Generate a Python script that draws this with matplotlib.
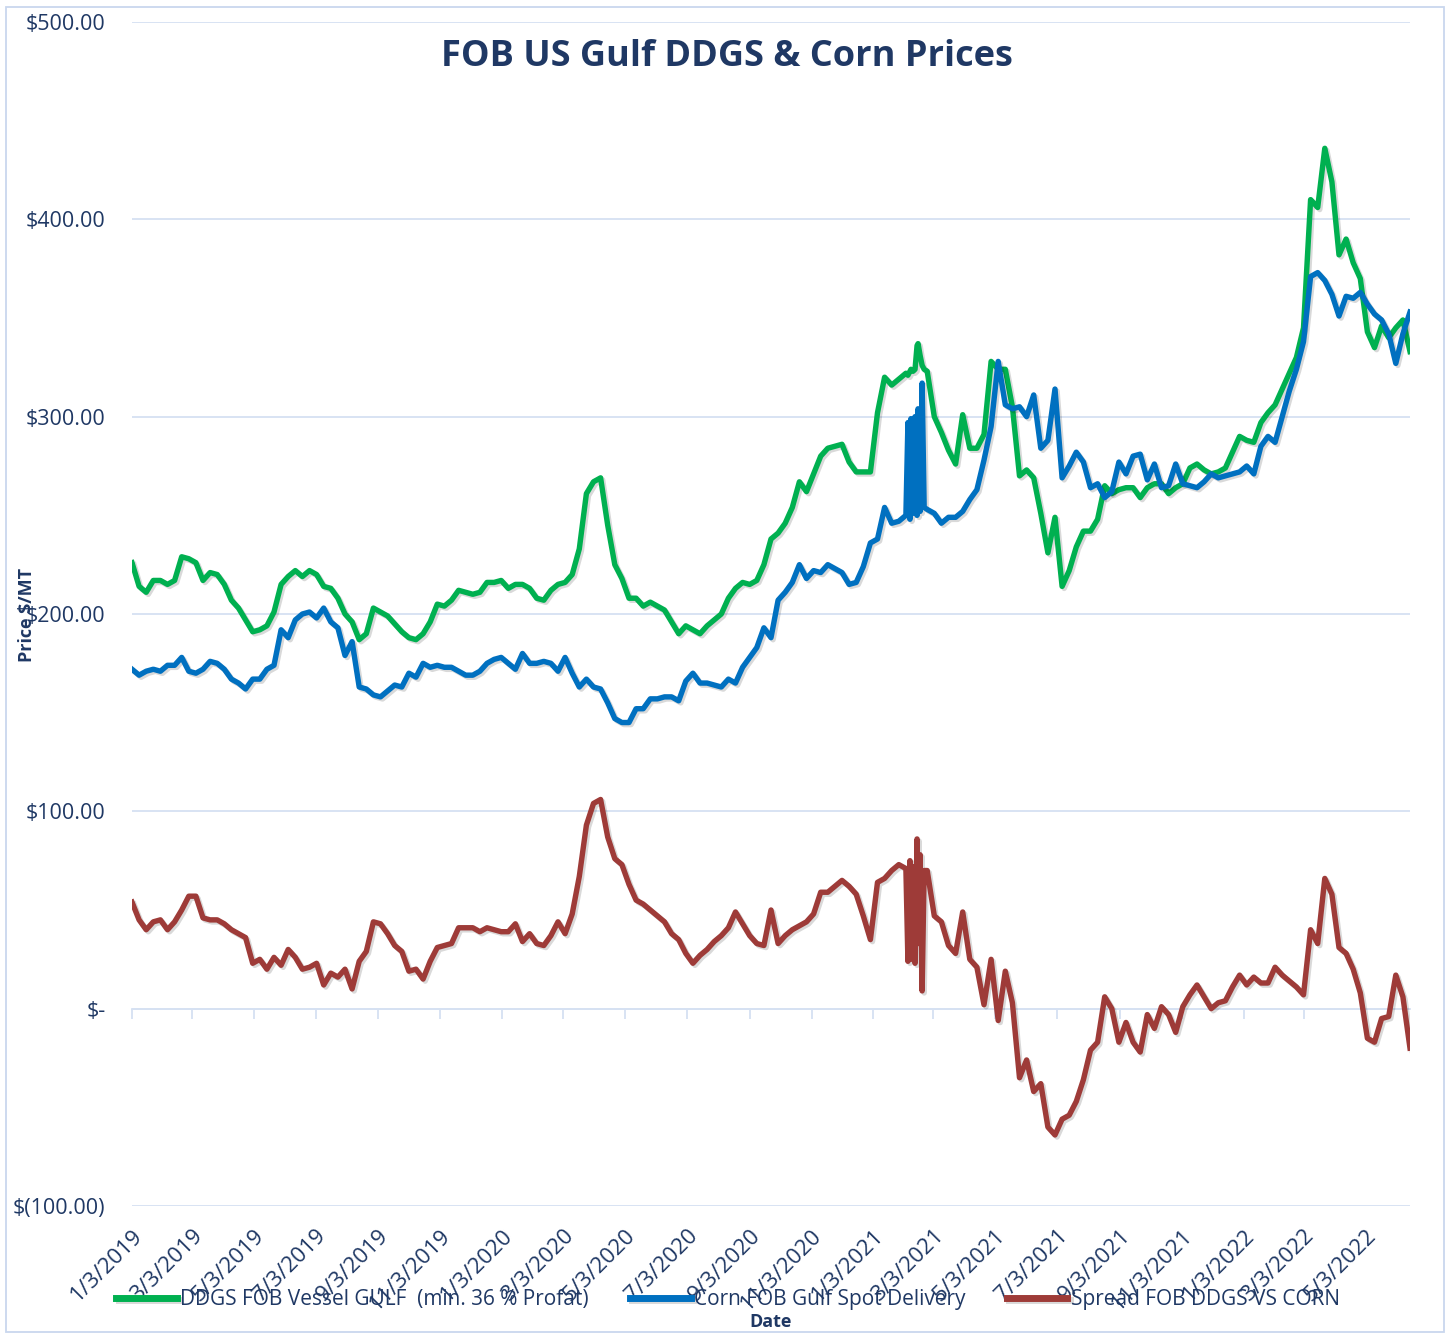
import matplotlib
matplotlib.use('Agg')
import matplotlib.pyplot as plt
import matplotlib.patheffects as pe
from matplotlib.patches import Rectangle
from matplotlib.ticker import FuncFormatter
import pandas as pd

plt.rcParams['font.family'] = ['Open Sans', 'DejaVu Sans']

# weekly prices, $/MT, starting 1/3/2019
start = '2019-01-03'
ddgs = [226, 214, 211, 217, 217, 215, 217, 229, 228, 226,
        217, 221, 220, 215, 207, 203, 197, 191, 192, 194,
        201, 215, 219, 222, 219, 222, 220, 214, 213, 208,
        200, 196, 187, 190, 203, 201, 199, 195, 191, 188,
        187, 190, 196, 205, 204, 207, 212, 211, 210, 211,
        216, 216, 217, 213, 215, 215, 213, 208, 207, 212,
        215, 216, 220, 233, 261, 267, 269, 245, 225, 218,
        208, 208, 204, 206, 204, 202, 196, 190, 194, 192,
        190, 194, 197, 200, 208, 213, 216, 215, 217, 225,
        238, 241, 246, 254, 267, 262, 271, 280, 284, 285,
        286, 277, 272, 272, 272, 302, 320, 316, 319, 322,
        323, 331, 323, 300, 292, 283, 276, 301, 284, 284,
        291, 328, 324, 324, 305, 270, 273, 269, 251, 231,
        249, 214, 222, 234, 242, 242, 248, 265, 261, 263,
        264, 264, 259, 264, 266, 266, 261, 264, 266, 274,
        276, 273, 271, 272, 274, 282, 290, 288, 287, 297,
        302, 306, 314, 322, 330, 345, 410, 406, 436, 419,
        382, 390, 378, 370, 343, 335, 346, 340, 345, 349, 333]

corn = [172, 169, 171, 172, 171, 174, 174, 178, 171, 170,
        172, 176, 175, 172, 167, 165, 162, 167, 167, 172,
        174, 192, 188, 197, 200, 201, 198, 203, 196, 193,
        179, 186, 163, 162, 159, 158, 161, 164, 163, 170,
        168, 175, 173, 174, 173, 173, 171, 169, 169, 171,
        175, 177, 178, 175, 172, 180, 175, 175, 176, 175,
        171, 178, 170, 163, 167, 163, 162, 155, 147, 145,
        145, 152, 152, 157, 157, 158, 158, 156, 166, 170,
        165, 165, 164, 163, 167, 165, 173, 178, 183, 193,
        188, 207, 211, 216, 225, 218, 222, 221, 225, 223,
        221, 215, 216, 224, 236, 238, 254, 246, 247, 250,
        251, 252, 253, 251, 246, 249, 249, 252, 258, 263,
        278, 295, 328, 306, 304, 305, 300, 311, 284, 288,
        314, 269, 275, 282, 277, 264, 266, 259, 262, 277,
        271, 280, 281, 268, 276, 264, 265, 276, 266, 265,
        264, 267, 271, 269, 270, 271, 272, 275, 271, 285,
        290, 287, 300, 313, 324, 338, 371, 373, 369, 362,
        351, 361, 360, 363, 357, 352, 349, 342, 327, 342, 353]

spread = [54, 45, 40, 44, 45, 40, 44, 50, 57, 57,
          46, 45, 45, 43, 40, 38, 36, 23, 25, 20,
          26, 22, 30, 26, 20, 21, 23, 12, 18, 16,
          20, 10, 24, 29, 44, 43, 38, 32, 29, 19,
          20, 15, 24, 31, 32, 33, 41, 41, 41, 39,
          41, 40, 39, 39, 43, 34, 38, 33, 32, 37,
          44, 38, 48, 67, 93, 104, 106, 87, 76, 73,
          63, 55, 53, 50, 47, 44, 38, 35, 28, 23,
          27, 30, 34, 37, 41, 49, 43, 37, 33, 32,
          50, 33, 37, 40, 42, 44, 48, 59, 59, 62,
          65, 62, 58, 47, 35, 64, 66, 70, 73, 71,
          72, 78, 70, 47, 44, 32, 28, 49, 25, 21,
          2, 25, -6, 19, 3, -35, -26, -42, -38, -60,
          -64, -56, -54, -47, -36, -21, -17, 6, 0, -17,
          -7, -17, -22, -3, -10, 1, -3, -12, 1, 7,
          12, 6, 0, 3, 4, 11, 17, 12, 16, 13,
          13, 21, 17, 14, 11, 7, 40, 33, 66, 58,
          31, 28, 20, 8, -15, -17, -5, -4, 17, 6, -20]

# extra daily quotes in Feb 2021 (the jumpy stretch)
burst_dates = ['2021-02-06', '2021-02-08', '2021-02-09', '2021-02-13',
               '2021-02-15', '2021-02-16', '2021-02-20', '2021-02-22']
burst_ddgs = [321, 323, 324, 324, 336, 337, 326, 324]
burst_corn = [297, 248, 299, 300, 250, 304, 317, 254]
burst_spread = [24, 75, 25, 23, 86, 33, 9, 70]

labels = ['DDGS FOB Vessel GULF  (min. 36 % Profat)',
          'Corn FOB Gulf Spot Delivery',
          'Spread FOB DDGS VS CORN']
colors = ['#00B050', '#0070C0', '#9E3B38']

weeks = pd.date_range(start, periods=len(ddgs), freq='7D')
bd = pd.to_datetime(burst_dates)


def series(weekly, extra):
    s = pd.concat([pd.Series(weekly, index=weeks), pd.Series(extra, index=bd)])
    return s.sort_index()


def money(v, pos):
    if v == 0:
        return '$-'
    if v < 0:
        return '$({:,.2f})'.format(-v)
    return '${:,.2f}'.format(v)


navy = '#1F3864'
grid_c = '#D6E1F2'

fig = plt.figure(figsize=(14.5, 13.35), dpi=100)
ax = fig.add_axes([132 / 1450, 1 - 1206 / 1335, 1278 / 1450, 1184 / 1335])

all_series = [series(ddgs, burst_ddgs), series(corn, burst_corn), series(spread, burst_spread)]
for s, c, lab in zip(all_series, colors, labels):
    ax.plot(s.index, s.values, color=c, lw=3.9, label=lab, solid_joinstyle='round',
            path_effects=[pe.SimpleLineShadow(offset=(1.5, -1.5), alpha=0.15), pe.Normal()])

ax.set_ylim(-100, 500)
ax.set_yticks(range(-100, 501, 100))
ax.yaxis.set_major_formatter(FuncFormatter(money))
ax.grid(axis='y', color=grid_c, lw=1.3)
ax.set_axisbelow(True)
for sp in ax.spines.values():
    sp.set_visible(False)
ax.tick_params(axis='y', length=0, pad=19, labelsize=15.5, labelcolor=navy)

xt = pd.date_range(start, '2022-05-03', freq=pd.DateOffset(months=2))
ax.set_xlim(weeks[0], weeks[-1])
ax.set_xticks(xt)
ax.set_xticklabels(['{}/{}/{}'.format(d.month, d.day, d.year) for d in xt])
ax.tick_params(axis='x', length=0, pad=14, labelsize=16, labelcolor=navy)
plt.setp(ax.get_xticklabels(), rotation=45, ha='right', va='top', rotation_mode='anchor')

# tick marks sit on the $0 line
zero = ax.secondary_xaxis(1 / 6)
zero.set_xticks(xt)
zero.set_xticklabels([])
zero.tick_params(axis='x', direction='out', length=7, width=1.3, color=grid_c)
zero.spines['bottom'].set_color(grid_c)
zero.spines['bottom'].set_linewidth(1.3)

fig.text(727 / 1450, 1 - 57 / 1335, 'FOB US Gulf DDGS & Corn Prices', ha='center', va='center',
         fontsize=26, fontweight='bold', color=navy)
fig.text(27 / 1450, 1 - 615 / 1335, 'Price $/MT', rotation=90, ha='center', va='center',
         fontsize=13, fontweight='bold', color=navy)
fig.text(771 / 1450, 1 - 1322 / 1335, 'Date', ha='center', va='center',
         fontsize=13, fontweight='bold', color=navy)

leg = fig.legend(loc='center', bbox_to_anchor=(728 / 1450, 1 - 1300 / 1335), ncol=3, frameon=False,
                 fontsize=15, handlelength=2.9, handletextpad=0.15, columnspacing=2.0)
for t in leg.get_texts():
    t.set_color(navy)
for h in leg.legend_handles:
    h.set_linewidth(5)

fig.add_artist(Rectangle((0.004, 0.002), 0.992, 0.993, transform=fig.transFigure,
                         fill=False, ec='#C9D7EE', lw=1.3))

fig.savefig('out.png', dpi=100)
